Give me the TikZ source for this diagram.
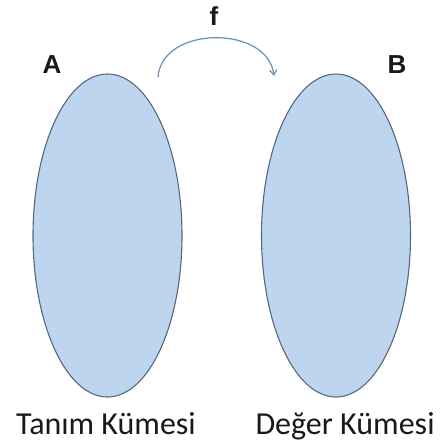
\documentclass[tikz,border=0pt]{standalone}
\usepackage{fontspec}
\setmainfont{Carlito}
\newfontfamily\arialf{Liberation Sans}
\usetikzlibrary{arrows.meta,shapes.geometric}
\definecolor{setfill}{HTML}{BDD5EE}
\definecolor{setline}{HTML}{56687C}
\definecolor{arrowc}{HTML}{6F8FB0}
\tikzset{
  setshape/.style={ellipse, draw=setline, fill=setfill, line width=1.1pt, minimum width=149pt, minimum height=323pt, inner sep=0pt},
  setlabel/.style={font=\arialf\bfseries\fontsize{26}{26}\selectfont, text=black!90, inner sep=0pt},
  caption/.style={font=\fontsize{32}{32}\selectfont, text=black!90, inner sep=0pt, anchor=base},
}
\begin{document}
\begin{tikzpicture}[x=1pt,y=-1pt]
\useasboundingbox (0,0) rectangle (442,443);
\node[setshape] (SA) at (107.5,235.5) {};
\node[setshape] (SB) at (336,235.5) {};
\node[setlabel] (LA) at (52,65) {A};
\node[setlabel] (LB) at (397,65) {B};
\node[setlabel] (LF) at (214,16) {f};
\coordinate (fs) at (158,77);
\coordinate (fe) at (274,76);
\draw[arrowc, line width=1.2pt, -{Straight Barb[length=5pt,width=7pt]}] (fs) .. controls (162,25) and (268,25) .. (fe);
\node[caption] (CA) at (106,434) {Tanım Kümesi};
\node[caption] (CB) at (345,434) {Değer Kümesi};
\end{tikzpicture}
\end{document}
